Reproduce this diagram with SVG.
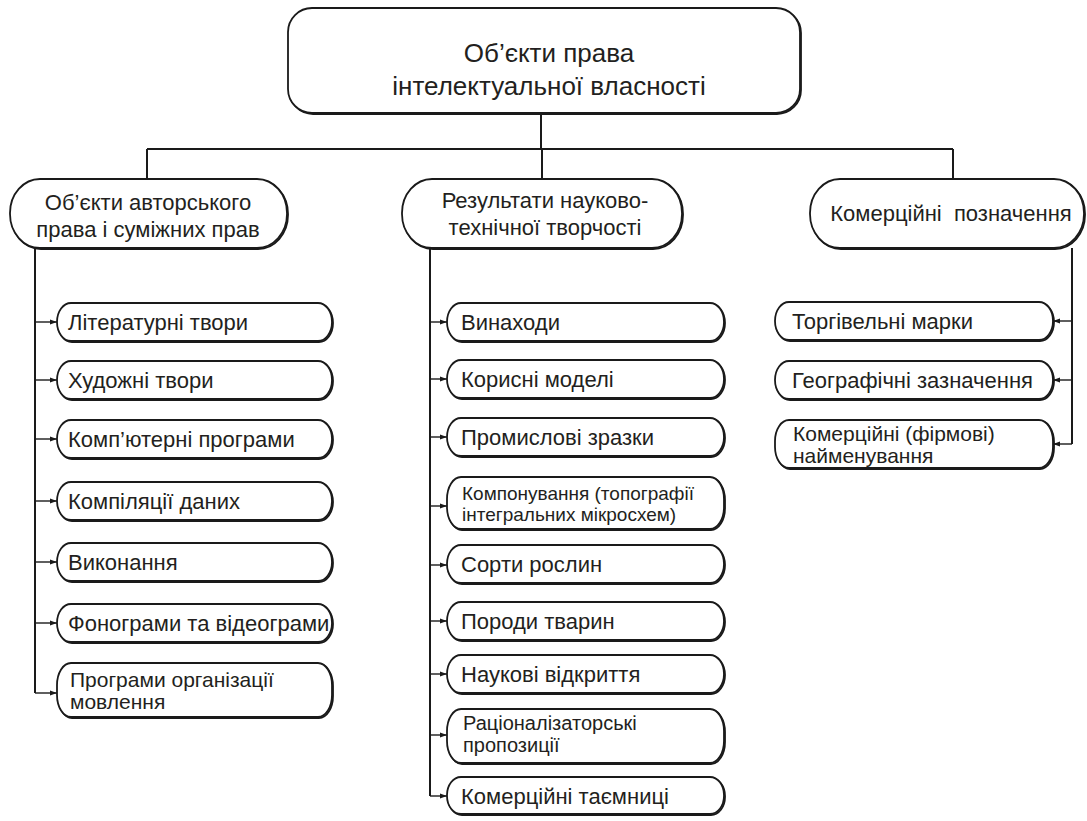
<svg xmlns="http://www.w3.org/2000/svg" width="1087" height="821" viewBox="0 0 1087 821">
<defs>
<style>
.bx{fill:#fff;stroke:#1a1a1a;stroke-width:1.8}
.sh{fill:none;stroke:#1a1a1a;stroke-width:1.8}
.ln{fill:none;stroke:#1a1a1a;stroke-width:2}
.ar{stroke:#1a1a1a;stroke-width:1.4;marker-end:url(#ah)}
text{font-family:"Liberation Sans",Arial,sans-serif;fill:#231f20}
.t1{font-size:26px;text-anchor:middle}
.t2{font-size:22px;text-anchor:middle}
.t3{font-size:22px}
.t4{font-size:20px}
.t5{font-size:19px}
.t6{font-size:21px}
</style>
<marker id="ah" markerUnits="userSpaceOnUse" markerWidth="8" markerHeight="6" refX="7" refY="3" orient="auto">
<path d="M0,0.5 L7,3 L0,5.5 z" fill="#1a1a1a"/>
</marker>
</defs>
<rect width="1087" height="821" fill="#fff"/>
<g id="connectors">
<path class="ln" d="M541,113 V149 M147,149 H953 M147,149 V179 M542,149 V179 M953,149 V179"/>
<path class="ln" d="M35,248 V693 M430,248 V796 M1072,248 V444"/>
<line class="ar" x1="35" y1="322" x2="57" y2="322"/>
<line class="ar" x1="35" y1="380" x2="57" y2="380"/>
<line class="ar" x1="35" y1="439" x2="57" y2="439"/>
<line class="ar" x1="35" y1="501" x2="57" y2="501"/>
<line class="ar" x1="35" y1="562" x2="57" y2="562"/>
<line class="ar" x1="35" y1="623" x2="57" y2="623"/>
<line class="ar" x1="35" y1="693" x2="57" y2="693"/>
<line class="ar" x1="430" y1="322" x2="447" y2="322"/>
<line class="ar" x1="430" y1="379" x2="447" y2="379"/>
<line class="ar" x1="430" y1="437" x2="447" y2="437"/>
<line class="ar" x1="430" y1="506" x2="447" y2="506"/>
<line class="ar" x1="430" y1="565" x2="447" y2="565"/>
<line class="ar" x1="430" y1="621" x2="447" y2="621"/>
<line class="ar" x1="430" y1="674" x2="447" y2="674"/>
<line class="ar" x1="430" y1="735" x2="447" y2="735"/>
<line class="ar" x1="430" y1="796" x2="447" y2="796"/>
<line class="ar" x1="1072" y1="321" x2="1053" y2="321"/>
<line class="ar" x1="1072" y1="380" x2="1053" y2="380"/>
<line class="ar" x1="1072" y1="444" x2="1053" y2="444"/>
</g>
<g id="root">
<rect class="sh" x="289" y="9" width="512" height="105" rx="24"/>
<rect class="bx" x="288" y="8" width="512" height="105" rx="24"/>
<text class="t1" x="549" y="62">Об’єкти права</text>
<text class="t1" x="549" y="95">інтелектуальної власності</text>
</g>
<g id="cat-author">
<rect class="sh" x="11" y="180" width="277" height="69" rx="30" ry="34"/>
<rect class="bx" x="10" y="179" width="277" height="69" rx="30" ry="34"/>
<text class="t2" x="148" y="210">Об’єкти авторського</text>
<text class="t2" x="148" y="237">права і суміжних прав</text>
</g>
<g id="cat-science">
<rect class="sh" x="403" y="180" width="280" height="69" rx="30" ry="34"/>
<rect class="bx" x="402" y="179" width="280" height="69" rx="30" ry="34"/>
<text class="t2" x="545" y="208">Результати науково-</text>
<text class="t2" x="545" y="235">технічної творчості</text>
</g>
<g id="cat-commercial">
<rect class="sh" x="811" y="180" width="274" height="69" rx="30" ry="34"/>
<rect class="bx" x="810" y="179" width="274" height="69" rx="30" ry="34"/>
<text class="t2" x="951" y="221" xml:space="preserve">Комерційні  позначення</text>
</g>
<g id="l1"><rect class="sh" x="58" y="304" width="275" height="38" rx="14" ry="19"/><rect class="bx" x="57" y="303" width="275" height="38" rx="14" ry="19"/><text class="t3" x="68" y="330">Літературні твори</text></g>
<g id="l2"><rect class="sh" x="58" y="362" width="275" height="38" rx="14" ry="19"/><rect class="bx" x="57" y="361" width="275" height="38" rx="14" ry="19"/><text class="t3" x="68" y="388">Художні твори</text></g>
<g id="l3"><rect class="sh" x="58" y="421" width="275" height="38" rx="14" ry="19"/><rect class="bx" x="57" y="420" width="275" height="38" rx="14" ry="19"/><text class="t3" x="68" y="447">Комп’ютерні програми</text></g>
<g id="l4"><rect class="sh" x="58" y="483" width="275" height="38" rx="14" ry="19"/><rect class="bx" x="57" y="482" width="275" height="38" rx="14" ry="19"/><text class="t3" x="68" y="509">Компіляції даних</text></g>
<g id="l5"><rect class="sh" x="58" y="544" width="275" height="38" rx="14" ry="19"/><rect class="bx" x="57" y="543" width="275" height="38" rx="14" ry="19"/><text class="t3" x="68" y="570">Виконання</text></g>
<g id="l6"><rect class="sh" x="58" y="605" width="275" height="38" rx="14" ry="19"/><rect class="bx" x="57" y="604" width="275" height="38" rx="14" ry="19"/><text class="t3" x="68" y="631">Фонограми та відеограми</text></g>
<g id="l7"><rect class="sh" x="58" y="664" width="275" height="54" rx="14" ry="22"/><rect class="bx" x="57" y="663" width="275" height="54" rx="14" ry="22"/><text class="t6" x="70" y="687">Програми організації</text><text class="t6" x="70" y="709">мовлення</text></g>
<g id="m1"><rect class="sh" x="448" y="304" width="277" height="38" rx="14" ry="19"/><rect class="bx" x="447" y="303" width="277" height="38" rx="14" ry="19"/><text class="t3" x="461" y="330">Винаходи</text></g>
<g id="m2"><rect class="sh" x="448" y="361" width="277" height="38" rx="14" ry="19"/><rect class="bx" x="447" y="360" width="277" height="38" rx="14" ry="19"/><text class="t3" x="461" y="387">Корисні моделі</text></g>
<g id="m3"><rect class="sh" x="448" y="419" width="277" height="38" rx="14" ry="19"/><rect class="bx" x="447" y="418" width="277" height="38" rx="14" ry="19"/><text class="t3" x="461" y="445">Промислові зразки</text></g>
<g id="m4"><rect class="sh" x="448" y="478" width="277" height="52" rx="14" ry="22"/><rect class="bx" x="447" y="477" width="277" height="52" rx="14" ry="22"/><text class="t5" x="462" y="500">Компонування (топографії</text><text class="t5" x="462" y="521">інтегральних мікросхем)</text></g>
<g id="m5"><rect class="sh" x="448" y="546" width="277" height="38" rx="14" ry="19"/><rect class="bx" x="447" y="545" width="277" height="38" rx="14" ry="19"/><text class="t3" x="461" y="572">Сорти рослин</text></g>
<g id="m6"><rect class="sh" x="448" y="603" width="277" height="38" rx="14" ry="19"/><rect class="bx" x="447" y="602" width="277" height="38" rx="14" ry="19"/><text class="t3" x="461" y="629">Породи тварин</text></g>
<g id="m7"><rect class="sh" x="448" y="656" width="277" height="38" rx="14" ry="19"/><rect class="bx" x="447" y="655" width="277" height="38" rx="14" ry="19"/><text class="t3" x="461" y="682">Наукові відкриття</text></g>
<g id="m8"><rect class="sh" x="448" y="710" width="277" height="54" rx="14" ry="22"/><rect class="bx" x="447" y="709" width="277" height="54" rx="14" ry="22"/><text class="t4" x="463" y="730">Раціоналізаторські</text><text class="t4" x="463" y="752">пропозиції</text></g>
<g id="m9"><rect class="sh" x="448" y="778" width="277" height="37" rx="14" ry="18"/><rect class="bx" x="447" y="777" width="277" height="37" rx="14" ry="18"/><text class="t3" x="461" y="804">Комерційні таємниці</text></g>
<g id="r1"><rect class="sh" x="776" y="303" width="278" height="38" rx="14" ry="19"/><rect class="bx" x="775" y="302" width="278" height="38" rx="14" ry="19"/><text class="t3" x="792" y="329">Торгівельні марки</text></g>
<g id="r2"><rect class="sh" x="776" y="362" width="278" height="38" rx="14" ry="19"/><rect class="bx" x="775" y="361" width="278" height="38" rx="14" ry="19"/><text class="t3" x="792" y="388">Географічні зазначення</text></g>
<g id="r3"><rect class="sh" x="776" y="421" width="278" height="48" rx="14" ry="21"/><rect class="bx" x="775" y="420" width="278" height="48" rx="14" ry="21"/><text class="t6" x="793" y="441">Комерційні (фірмові)</text><text class="t6" x="793" y="463">найменування</text></g>
</svg>
